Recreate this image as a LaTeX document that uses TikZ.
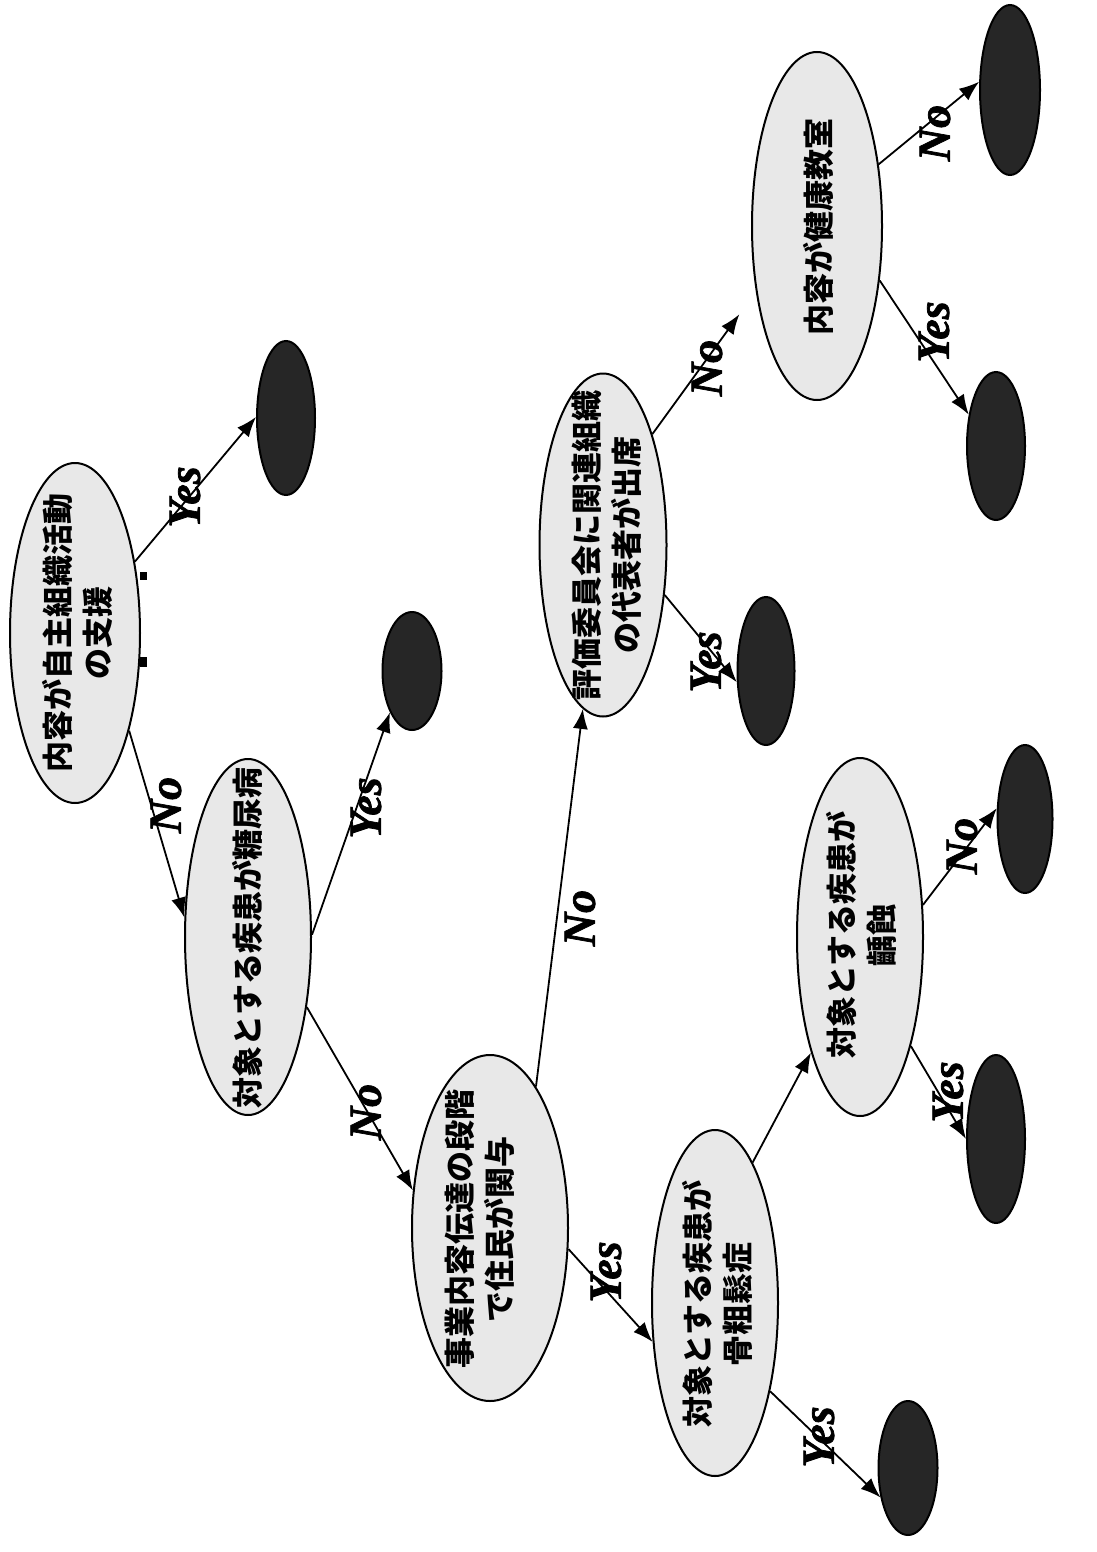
\documentclass[tikz,border=0pt]{standalone}
\usepackage{fontspec}
\setmainfont{Liberation Serif}
\newfontfamily\labfont{Liberation Serif Bold Italic}[FakeBold=1.6]
\newfontfamily\jpfont{Noto Sans CJK JP}
\usetikzlibrary{shapes.geometric,arrows.meta}
\tikzset{
  qnode/.style={ellipse, draw, line width=1pt, fill=black!9, inner sep=0pt},
  leafnode/.style={ellipse, draw, line width=1pt, fill=black!85, inner sep=0pt},
  jtext/.style={rotate=90, font=\jpfont\bfseries\fontsize{15.5pt}{20pt}\selectfont, align=center, inner sep=0pt},
  lab/.style={rotate=90, font=\labfont\fontsize{23pt}{23pt}\selectfont, inner sep=0pt},
  arr/.style={-{Latex[length=10pt,width=7.5pt]}, line width=0.9pt},
}
\begin{document}
\begin{tikzpicture}[x=0.5pt,y=-0.5pt]
\useasboundingbox[fill=white] (0,0) rectangle (1097,1552);
% question nodes
\node[qnode, minimum width=65pt, minimum height=170pt] (n1) at (75,633) {};
\node[qnode, minimum width=63pt, minimum height=178pt] (n2) at (248,937) {};
\node[qnode, minimum width=78pt, minimum height=173pt] (n3) at (490,1228) {};
\node[qnode, minimum width=63pt, minimum height=173pt] (n4) at (715,1303) {};
\node[qnode, minimum width=63pt, minimum height=179pt] (n5) at (860,937) {};
\node[qnode, minimum width=63.5pt, minimum height=171.5pt] (n6) at (603,545) {};
\node[qnode, minimum width=65pt, minimum height=174pt] (n7) at (817,226) {};
% texts
\node[jtext] (t1) at (77,633) {内容が自主組織活動\\の支援};
\node[jtext] (t2) at (247,938) {対象とする疾患が糖尿病};
\node[jtext] (t3) at (480,1229) {事業内容伝達の段階\\で住民が関与};
\node[jtext] (t4) at (717,1304) {対象とする疾患が\\骨粗鬆症};
\node[jtext] (t5) at (861,935) {対象とする疾患が\\齲蝕};
\node[jtext] (t6) at (607,545) {評価委員会に関連組織\\の代表者が出席};
\node[jtext] (t7) at (818,227) {内容が健康教室};
% leaves
\node[leafnode, minimum width=29pt, minimum height=77pt] (l1) at (286,418) {};
\node[leafnode, minimum width=29.5pt, minimum height=59pt] (l2) at (412,671) {};
\node[leafnode, minimum width=28.5pt, minimum height=74pt] (l3) at (766,671) {};
\node[leafnode, minimum width=29pt, minimum height=74pt] (l4) at (996,446) {};
\node[leafnode, minimum width=30pt, minimum height=85pt] (l5) at (1010,90) {};
\node[leafnode, minimum width=27.5pt, minimum height=74pt] (l6) at (1025,819) {};
\node[leafnode, minimum width=29pt, minimum height=84pt] (l7) at (996,1139) {};
\node[leafnode, minimum width=29.5pt, minimum height=67pt] (l8) at (908,1468) {};
% small marks
\fill (140,572) rectangle (147,580);
\fill (140,657) rectangle (147,667);
% edges
\draw[arr] (n1.50) -- (l1.178);
\draw[arr] (n1.-61) -- (n2.163);
\draw[arr] (n2.2) -- (l2.-118);
\draw[arr] (n2.-50) -- (n3.154);
\draw[arr] (n3.72) -- (n6.-97);
\draw[arr] (n3.-15) -- (n4.-148);
\draw[arr] (n4.75) -- (n5.-113);
\draw[arr] (n4.-58) -- (l8.-133);
\draw[arr] (n5.-65) -- (l7.180);
\draw[arr] (n5.27) -- (l6.159);
\draw[arr] (n6.-39) -- (l3.-159);
\draw[arr, shorten >=14pt] (n6.66) -- (n7.-133);
\draw[arr] (n7.-41) -- (l4.131);
\draw[arr] (n7.45) -- (l5.165);
% labels
\node[lab] (y1) at (185,497) {Yes};
\node[lab] (x1) at (166,805) {No};
\node[lab] (y2) at (366,808) {Yes};
\node[lab] (x2) at (366,1112) {No};
\node[lab] (x3) at (580,918) {No};
\node[lab] (y3) at (606,1272) {Yes};
\node[lab] (y4) at (819,1437) {Yes};
\node[lab] (y5) at (948,1092) {Yes};
\node[lab] (x5) at (962,846) {No};
\node[lab] (y6) at (706,662) {Yes};
\node[lab] (x6) at (707,368) {No};
\node[lab] (y7) at (934,332) {Yes};
\node[lab] (x7) at (935,133) {No};
\end{tikzpicture}
\end{document}
